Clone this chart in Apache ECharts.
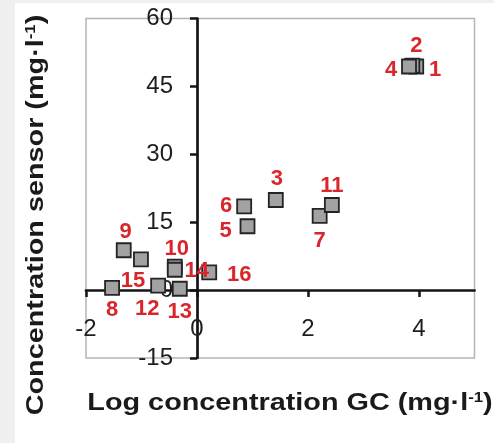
<!DOCTYPE html>
<html>
<head>
<meta charset="utf-8">
<script src="https://cdn.jsdelivr.net/npm/echarts@6/dist/echarts.min.js"></script>
<style>
  html, body { margin: 0; padding: 0; background: #ffffff; }
  #chart { width: 494px; height: 443px; }
</style>
</head>
<body>
<div id="chart"></div>
<script>
// Sample numbers and their measured values
const sampleIds = ['1', '2', '3', '4', '5', '6', '7', '8', '9', '10', '11', '12', '13', '14', '15', '16'];
const logGC  = [3.95, 3.88, 1.42, 3.82, 0.91, 0.85, 2.21, -1.53, -1.32, -0.40, 2.43, -0.70, -0.31, -0.40, -1.01, 0.22];
const sensor = [49.4, 49.6, 19.9, 49.4, 14.1, 18.5, 16.4, 0.5, 8.8, 5.2, 18.8, 1.0, 0.3, 4.5, 6.8, 3.9];

// Axis ticks
const xTicks = [-2, 0, 2, 4];
const yTicks = [-15, 0, 15, 30, 45, 60];
const xMax = 5;

// Where each sample number sits relative to its marker (px, layout only)
const labelOffsets = [
  [19, 3], [4, -20], [1, -21], [-18, 3], [-22, 5], [-18, 0], [0, 25], [0, 22],
  [2, -18], [2, -18], [0, -19], [-11, 23], [0, 23], [22, 1], [-8, 22], [30, 2]
];

// Plot box
const W = 494, H = 443;
const box = { left: 86, right: 19.5, top: 18.5, bottom: 85 };
const xMin = xTicks[0], yMin = yTicks[0], yMax = yTicks[yTicks.length - 1];
const plotW = W - box.left - box.right;
const plotH = H - box.top - box.bottom;
// Shift the axes so they cross at the origin (labels travel with them)
const xAxisShift = -plotH * (0 - yMin) / (yMax - yMin);
const yAxisShift = -plotW * (0 - xMin) / (xMax - xMin);

const red = '#d9262c';
const points = sampleIds.map((id, i) => ({
  name: id,
  value: [logGC[i], sensor[i]],
  label: { offset: labelOffsets[i] }
}));

const chart = echarts.init(document.getElementById('chart'), null, { renderer: 'canvas' });

const titleRich = {
  b: { fontFamily: 'Liberation Sans', fontWeight: 'bold', fontSize: 24, fill: '#1a1a1a' },
  s: { fontFamily: 'Liberation Sans', fontWeight: 'bold', fontSize: 14, fill: '#1a1a1a', verticalAlign: 'top' }
};

chart.setOption({
  animation: false,
  backgroundColor: '#ffffff',
  grid: {
    left: box.left, right: box.right, top: box.top, bottom: box.bottom,
    show: true, borderColor: '#b5b5b5', borderWidth: 1.5, backgroundColor: 'transparent'
  },
  xAxis: {
    type: 'value',
    min: xMin, max: xMax, interval: 2,
    offset: xAxisShift,
    splitLine: { show: false },
    axisLine: { onZero: false, lineStyle: { color: '#141414', width: 2.7 } },
    axisTick: { show: true, length: 7, customValues: xTicks, lineStyle: { color: '#141414', width: 2.5 } },
    axisLabel: { customValues: xTicks, margin: 27, fontSize: 24, fontFamily: 'Liberation Sans', color: '#1e1e1e' }
  },
  yAxis: {
    type: 'value',
    min: yMin, max: yMax, interval: 15,
    offset: yAxisShift,
    splitLine: { show: false },
    axisLine: { onZero: false, lineStyle: { color: '#141414', width: 2.7 } },
    axisTick: { show: true, length: 7, lineStyle: { color: '#141414', width: 2.5 } },
    axisLabel: { margin: 24, fontSize: 24, fontFamily: 'Liberation Sans', color: '#1e1e1e' }
  },
  series: [{
    type: 'scatter',
    symbol: 'rect',
    symbolSize: 14,
    data: points,
    itemStyle: { color: '#a2a2a2', borderColor: '#242424', borderWidth: 1.8, opacity: 1 },
    label: {
      show: true,
      position: 'inside',
      formatter: p => p.name,
      color: red,
      fontSize: 22,
      fontWeight: 'bold',
      fontFamily: 'Liberation Sans'
    },
    emphasis: { disabled: true }
  }],
  graphic: [
    { type: 'rect', left: 0, top: 0, shape: { width: W, height: 3 }, style: { fill: '#f0f0f0' }, silent: true },
    { type: 'rect', left: 0, top: 0, shape: { width: 15, height: H }, style: { fill: '#f0f0f0' }, silent: true },
    {
      type: 'text', x: 290, y: 403, scaleX: 1.2,
      style: {
        text: '{b|Log concentration GC (mg·l}{s|-1}{b|)}',
        rich: titleRich, align: 'center', verticalAlign: 'middle'
      }
    },
    {
      type: 'text', x: 36, y: 215, rotation: Math.PI / 2, scaleX: 1.2,
      style: {
        text: '{b|Concentration sensor (mg·l}{s|-1}{b|)}',
        rich: titleRich, align: 'center', verticalAlign: 'middle'
      }
    }
  ]
});
</script>
</body>
</html>
